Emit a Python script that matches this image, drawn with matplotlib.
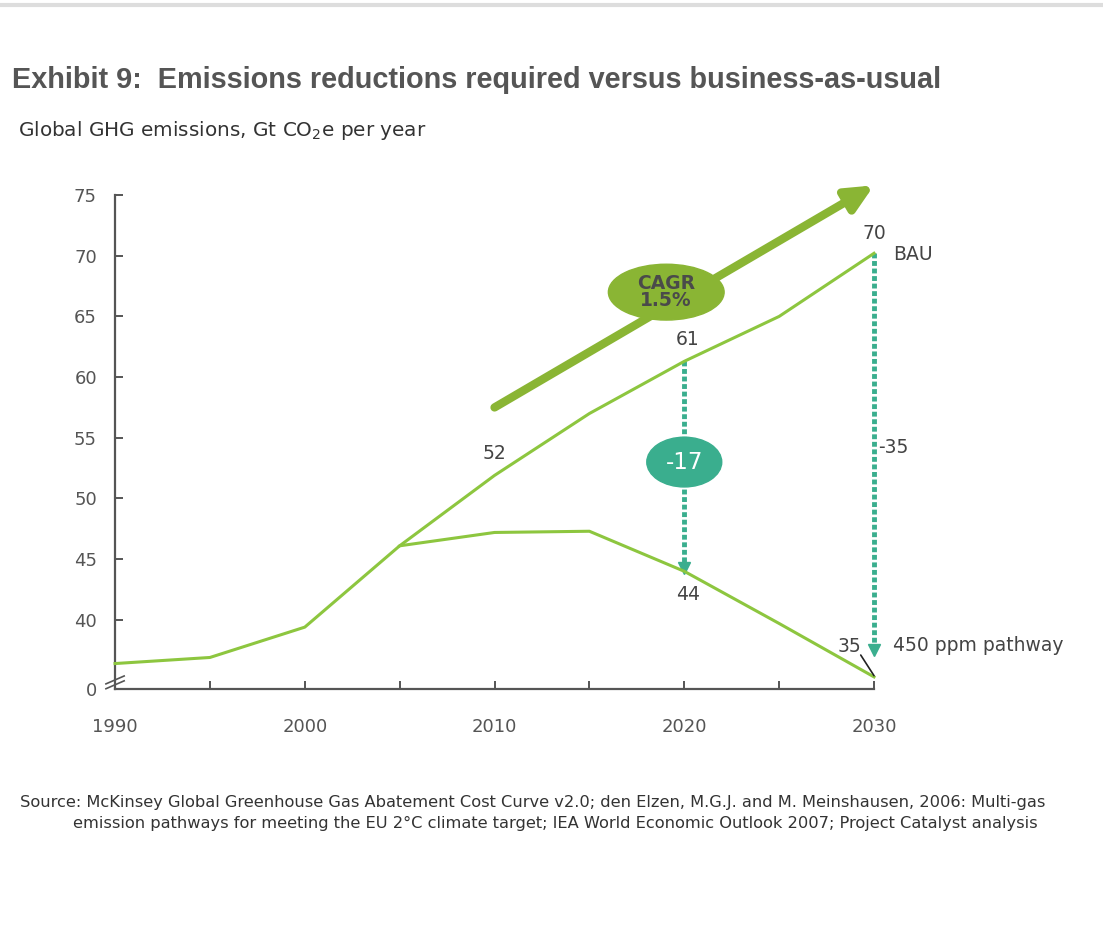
import matplotlib
matplotlib.use("Agg")
import matplotlib.pyplot as plt
from matplotlib.patches import Ellipse
from matplotlib.lines import Line2D

plt.rcParams['font.family'] = ['DejaVu Sans']

# data
years = [1990, 1995, 2000, 2005, 2010, 2015, 2020, 2025, 2030]
pathway_450 = [36.4, 36.9, 39.4, 46.1, 47.2, 47.3, 44.0, 39.7, 35.3]
bau_years = [2005, 2010, 2015, 2020, 2025, 2030]
bau = [46.1, 51.9, 57.0, 61.3, 65.0, 70.2]
gap_2020 = (61.3, 44.0)
gap_2030 = (70.2, 37.2)
cagr_arrow = ((2010, 57.5), (2030, 75.8))

yticks = [40, 45, 50, 55, 60, 65, 70, 75]
xticks = list(range(1990, 2031, 5))
xlabels = ['1990', '', '2000', '', '2010', '', '2020', '', '2030']
y_floor = 34.3

green = '#8dc63f'
dark_green = '#8ab534'
teal = '#3aae8e'
grey = '#555555'
txt = '#444444'
lab = 13.5

fig = plt.figure(figsize=(11.03, 9.31), dpi=100)
ax = fig.add_axes([0.1043, 0.2599, 0.6881, 0.5306])

ax.plot(years, pathway_450, color=green, lw=2.2, zorder=3, clip_on=False)
ax.plot(bau_years, bau, color=green, lw=2.2, zorder=3, clip_on=False)

# CAGR arrow
ax.annotate('', xy=cagr_arrow[1], xytext=cagr_arrow[0], annotation_clip=False,
            arrowprops=dict(arrowstyle='-|>,head_length=1.6,head_width=0.75',
                            color=dark_green, lw=6, shrinkA=0, shrinkB=0))
ax.add_patch(Ellipse((2019.05, 67.0), 6.1, 4.6, color=dark_green, zorder=4, clip_on=False))
ax.text(2019.05, 67.0, 'CAGR\n1.5%', ha='center', va='center', fontsize=13.5,
        fontweight='bold', color='#4a4a4a', linespacing=0.9, zorder=5)

# reduction gaps
for x, (top, bot) in zip([2020, 2030], [gap_2020, gap_2030]):
    ax.plot([x, x], [top, bot + 0.6], color=teal, lw=3.5, ls=(0, (1, 0.55)),
            zorder=2, clip_on=False)
    ax.plot([x], [bot + 0.3], marker='v', color=teal, ms=8, zorder=2, clip_on=False)
ax.add_patch(Ellipse((2020, 53.0), 3.95, 4.1, color=teal, zorder=4))
ax.text(2020, 53.0, '-17', ha='center', va='center', fontsize=16.5, color='white', zorder=5)
ax.text(2030.2, 54.2, '-35', ha='left', va='center', fontsize=lab, color=txt)

# value labels
ax.text(2030, 71.8, '70', ha='center', va='center', fontsize=lab, color=txt)
ax.text(2031.0, 70.1, 'BAU', ha='left', va='center', fontsize=lab, color=txt)
ax.text(2020.2, 63.1, '61', ha='center', va='center', fontsize=lab, color=txt)
ax.text(2010, 53.7, '52', ha='center', va='center', fontsize=lab, color=txt)
ax.text(2020.2, 42.1, '44', ha='center', va='center', fontsize=lab, color=txt)
ax.text(2028.7, 37.8, '35', ha='center', va='center', fontsize=lab, color=txt)
ax.annotate('', xy=(2030, pathway_450[-1] + 0.1), xytext=(2029.3, 37.1),
            arrowprops=dict(arrowstyle='-', color='#222222', lw=1.2, shrinkA=0, shrinkB=0))
ax.text(2031.0, 37.9, '450 ppm pathway', ha='left', va='center', fontsize=lab, color=txt)

# axes styling
ax.set_xlim(1990, 2030)
ax.set_ylim(y_floor, 75)
ax.set_xticks(xticks)
ax.set_xticklabels(xlabels)
ax.set_yticks([y_floor] + yticks)
ax.set_yticklabels(['0'] + [str(v) for v in yticks])
for s in ['top', 'right']:
    ax.spines[s].set_visible(False)
for s in ['left', 'bottom']:
    ax.spines[s].set_color(grey)
    ax.spines[s].set_linewidth(1.6)
ax.tick_params(axis='x', direction='in', length=6, width=1.4, color=grey,
               labelsize=13, labelcolor=grey, pad=21)
ax.tick_params(axis='y', direction='in', length=6, width=1.4, color=grey,
               labelsize=13, labelcolor=grey, pad=13)
ax.yaxis.get_major_ticks()[0].tick1line.set_visible(False)

# axis break mark
for dy in (0.35, 0.75):
    ax.add_line(Line2D([-0.012, 0.012], [dy / 40.7 - 0.008, dy / 40.7 + 0.008],
                       transform=ax.transAxes, color=grey, lw=1.2, clip_on=False))

# titles and source
fig.add_artist(Line2D([0, 1], [0.9945, 0.9945], color='#dddddd', lw=3))
fig.text(0.0109, 0.914, 'Exhibit 9:  Emissions reductions required versus business-as-usual',
         fontsize=20.8, fontweight='bold', color=grey, va='center',
         family='Liberation Sans')
fig.text(0.0163, 0.860, 'Global GHG emissions, Gt CO$_2$e per year',
         fontsize=14.4, color='#333333', va='center')
fig.text(0.018, 0.1375, 'Source: McKinsey Global Greenhouse Gas Abatement Cost Curve v2.0; '
         'den Elzen, M.G.J. and M. Meinshausen, 2006: Multi-gas',
         fontsize=11.7, color='#333333', va='center')
fig.text(0.066, 0.115, 'emission pathways for meeting the EU 2\u00b0C climate target; '
         'IEA World Economic Outlook 2007; Project Catalyst analysis',
         fontsize=11.7, color='#333333', va='center')

fig.savefig('out.png', dpi=100)
